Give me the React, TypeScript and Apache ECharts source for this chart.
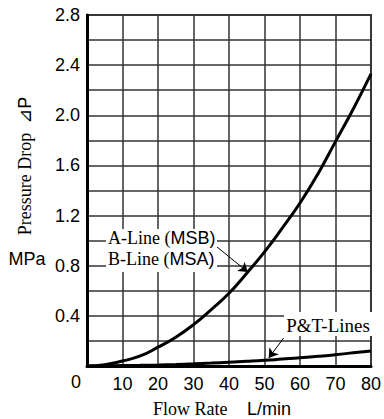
import React, { useEffect, useRef } from "react";
import * as echarts from "echarts";

const flowRate = [0, 5, 10, 15, 20, 25, 30, 35, 40, 45, 50, 55, 60, 65, 70, 75, 80];
const abLine = [0, 0.01, 0.04, 0.08, 0.15, 0.23, 0.33, 0.45, 0.58, 0.74, 0.91, 1.1, 1.3, 1.53, 1.79, 2.05, 2.33];
const ptLine = [0, 0.001, 0.003, 0.005, 0.008, 0.012, 0.017, 0.023, 0.03, 0.037, 0.045, 0.055, 0.065, 0.077, 0.09, 0.105, 0.12];
const abArrow = [[36.6, 0.95], [45.3, 0.75]];
const ptArrow = [[55.4, 0.223], [51.2, 0.064]];

const SERIF = '"Liberation Serif", "Times New Roman", serif';
const SANS = '"Liberation Sans", Arial, "DejaVu Sans", sans-serif';

export default function App() {
  const ref = useRef<HTMLDivElement>(null);
  useEffect(() => {
    if (!ref.current) return;
    const chart = echarts.init(ref.current, null, { renderer: "svg" });
    const rich = {
      s: { fontFamily: SERIF, fontSize: 18, color: "#000" },
      h: { fontFamily: SANS, fontSize: 18, color: "#000" },
    };
    chart.setOption({
      animation: false,
      backgroundColor: "#fff",
      grid: {
        left: 87, top: 15, width: 286, height: 351,
        show: true, borderColor: "#444", borderWidth: 2, backgroundColor: "transparent",
      },
      xAxis: {
        type: "value", min: 0, max: 80, interval: 10,
        axisLine: { show: true, onZero: false, lineStyle: { color: "#000", width: 3 } },
        axisTick: { show: false },
        axisLabel: {
          margin: 9, fontFamily: SANS, fontSize: 18, color: "#000",
          formatter: (v: number) => (v === 0 ? "" : String(v)),
        },
        splitLine: { show: true, lineStyle: { color: "#333", width: 1.5 } },
      },
      yAxis: {
        type: "value", min: 0, max: 2.8, interval: 0.2,
        axisLine: { show: true, onZero: false, lineStyle: { color: "#000", width: 3 } },
        axisTick: { show: false },
        axisLabel: {
          margin: 7, fontFamily: SANS, fontSize: 18, color: "#000",
          formatter: (v: number) => {
            const t = Math.round(v * 10);
            return t !== 0 && t % 4 === 0 ? v.toFixed(1) : "";
          },
        },
        splitLine: { show: true, lineStyle: { color: "#333", width: 1.5 } },
      },
      series: [
        {
          type: "line", name: "A/B", smooth: true, symbol: "none",
          data: flowRate.map((x, i) => [x, abLine[i]]),
          lineStyle: { color: "#000", width: 3 },
          markLine: {
            silent: true, symbol: ["none", "arrow"], symbolSize: 9,
            lineStyle: { color: "#000", width: 1, type: "solid" },
            label: { show: false },
            data: [[{ coord: abArrow[0] }, { coord: abArrow[1] }]],
          },
        },
        {
          type: "line", name: "PT", smooth: true, symbol: "none",
          data: flowRate.map((x, i) => [x, ptLine[i]]),
          lineStyle: { color: "#000", width: 3 },
          markLine: {
            silent: true, symbol: ["none", "arrow"], symbolSize: 9,
            lineStyle: { color: "#000", width: 1, type: "solid" },
            label: { show: false },
            data: [[{ coord: ptArrow[0] }, { coord: ptArrow[1] }]],
          },
        },
      ],
      graphic: [
        { type: "rect", z: 50, shape: { x: 106, y: 229, width: 111, height: 43 }, style: { fill: "#fff" } },
        { type: "rect", z: 50, shape: { x: 284, y: 312, width: 88, height: 24 }, style: { fill: "#fff" } },
        {
          type: "text", z: 51, x: 108, y: 238,
          style: { text: "{s|A-Line (}{h|MSB)}", rich, textAlign: "left", textVerticalAlign: "middle" },
        },
        {
          type: "text", z: 51, x: 108, y: 259,
          style: { text: "{s|B-Line (}{h|MSA)}", rich, textAlign: "left", textVerticalAlign: "middle" },
        },
        {
          type: "text", z: 51, x: 328, y: 325,
          style: { text: "P&T-Lines", font: `19px ${SERIF}`, fill: "#000", textAlign: "center", textVerticalAlign: "middle" },
        },
        {
          type: "text", z: 51, x: 76, y: 382,
          style: { text: "0", font: `18px ${SANS}`, fill: "#000", textAlign: "center", textVerticalAlign: "middle" },
        },
        {
          type: "text", z: 51, x: 27, y: 259,
          style: { text: "MPa", font: `18px ${SANS}`, fill: "#000", textAlign: "center", textVerticalAlign: "middle" },
        },
        {
          type: "text", z: 51, x: 153, y: 409,
          style: { text: "Flow Rate", font: `18px ${SERIF}`, fill: "#000", textAlign: "left", textVerticalAlign: "middle" },
        },
        {
          type: "text", z: 51, x: 247, y: 409,
          style: { text: "L/min", font: `18px ${SANS}`, fill: "#000", textAlign: "left", textVerticalAlign: "middle" },
        },
        {
          type: "text", z: 51, x: 25, y: 166, rotation: Math.PI / 2,
          style: { text: "{s|Pressure Drop  }{h|⊿P}", rich, textAlign: "center", textVerticalAlign: "middle" },
        },
      ],
    });
    return () => chart.dispose();
  }, []);
  return <div ref={ref} style={{ position: "fixed", left: 0, top: 0, width: 384, height: 419 }} />;
}
